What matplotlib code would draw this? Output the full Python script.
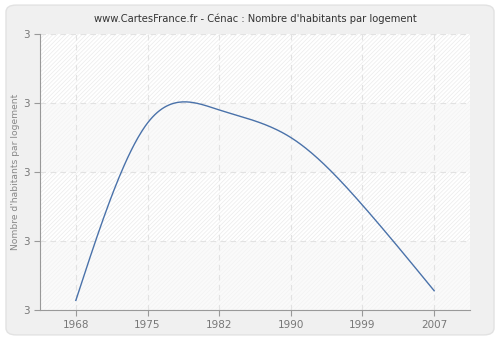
import numpy as np
import matplotlib
matplotlib.use('Agg')
import matplotlib.pyplot as plt
from matplotlib.patches import FancyBboxPatch

years = ['1968', '1975', '1982', '1990', '1999', '2007']
values = [2.614, 2.871, 2.890, 2.850, 2.752, 2.628]

title = "www.CartesFrance.fr - Cénac : Nombre d'habitants par logement"
ylabel = "Nombre d'habitants par logement"


def natural_spline(x, y, n=300):
    # plain natural cubic spline, just for drawing the smooth line
    x = np.asarray(x, float)
    y = np.asarray(y, float)
    k = len(x)
    h = np.diff(x)
    A = np.zeros((k, k))
    b = np.zeros(k)
    A[0, 0] = 1
    A[-1, -1] = 1
    for i in range(1, k - 1):
        A[i, i - 1] = h[i - 1]
        A[i, i] = 2 * (h[i - 1] + h[i])
        A[i, i + 1] = h[i]
        b[i] = 3 * ((y[i + 1] - y[i]) / h[i] - (y[i] - y[i - 1]) / h[i - 1])
    c = np.linalg.solve(A, b)
    xs = np.linspace(x[0], x[-1], n)
    ys = np.empty_like(xs)
    for j, t in enumerate(xs):
        i = min(np.searchsorted(x, t, side='right') - 1, k - 2)
        d = t - x[i]
        bb = (y[i + 1] - y[i]) / h[i] - h[i] * (2 * c[i] + c[i + 1]) / 3
        dd = (c[i + 1] - c[i]) / (3 * h[i])
        ys[j] = y[i] + bb * d + c[i] * d ** 2 + dd * d ** 3
    return xs, ys


plt.rcParams['hatch.linewidth'] = 0.5

fig = plt.figure(figsize=(5, 3.4), dpi=100)
fig.patch.set_facecolor('white')
bg = FancyBboxPatch((0.012, 0.015), 0.976, 0.97, boxstyle='round,pad=0,rounding_size=0.02',
                    transform=fig.transFigure, facecolor='#f0f0f0', edgecolor='#e2e2e2',
                    linewidth=1, zorder=-10)
fig.patches.append(bg)

ax = fig.add_axes([0.08, 0.088, 0.86, 0.812])
ax.set_zorder(1)
ax.set_facecolor('white')

ymin, ymax = 2.6, 3.0
ticks = np.arange(ymin, ymax + 0.001, 0.1)
for i in range(len(ticks) - 1):
    lo, hi = ticks[i], ticks[i + 1]
    if i % 2 == 1:
        ax.axhspan(lo, hi, facecolor='white', edgecolor='#ebebeb', hatch='////////', linewidth=0, zorder=0)
    else:
        ax.axhspan(lo, hi, facecolor='#fafafa', edgecolor='#f3f3f3', hatch='////////', linewidth=0, zorder=0)

x = np.arange(len(years))
xs, ys = natural_spline(x, values)
ax.plot(xs, ys, color='#4a72aa', linewidth=1, zorder=3)

ax.set_xlim(-0.5, 5.5)
ax.set_ylim(ymin, ymax)
ax.set_xticks(x)
ax.set_xticklabels(years)
ax.set_yticks(ticks)
ax.set_yticklabels(['%.0f' % t for t in ticks])
ax.grid(True, color='#e2e2e2', linestyle=(0, (5, 4)), linewidth=0.8, zorder=1)

for s in ['top', 'right']:
    ax.spines[s].set_visible(False)
for s in ['left', 'bottom']:
    ax.spines[s].set_color('#999999')
ax.tick_params(colors='#999999', labelcolor='#777777', labelsize=7.5, length=4, width=0.8)

ax.set_ylabel(ylabel, color='#888888', fontsize=6.6, labelpad=2)
ax.set_title(title, color='#333333', fontsize=7.2, pad=9)

fig.savefig('out.png', dpi=100)
